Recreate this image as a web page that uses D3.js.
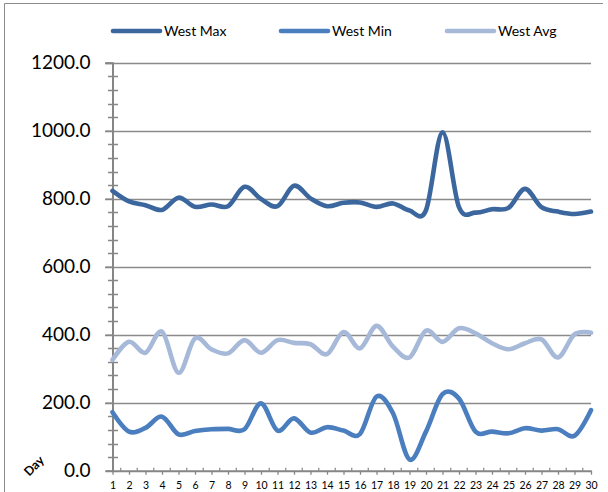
<!DOCTYPE html>
<html>
<head>
<meta charset="utf-8">
<script src="https://cdn.jsdelivr.net/npm/d3@7"></script>
<style>
  html, body { margin: 0; padding: 0; background: #fff; }
  svg { display: block; }
</style>
</head>
<body>
<svg id="chart" width="608" height="492"></svg>
<script>
const days = d3.range(1, 31);
const westMax = [823, 792, 781, 767, 803, 776, 783, 778, 835, 799, 778, 838, 801, 778, 788, 789, 776, 786, 765, 766, 995, 775, 759, 769, 773, 829, 775, 762, 755, 762];
const westMin = [172, 115, 126, 159, 107, 117, 122, 123, 122, 198, 118, 154, 112, 128, 118, 108, 218, 169, 33, 115, 225, 212, 115, 115, 110, 125, 118, 122, 103, 178];
const westAvg = [326, 379, 347, 409, 288, 389, 357, 345, 384, 347, 384, 376, 372, 343, 408, 360, 426, 365, 333, 412, 379, 419, 404, 375, 357, 375, 386, 333, 401, 406];
const seriesNames = ["West Max", "West Min", "West Avg"];
const seriesColors = ["#3b679e", "#4a7ebf", "#a7b9d9"];
const yTicks = [0, 200, 400, 600, 800, 1000, 1200];
const xTitle = "Day";

const font = "Lato, 'Open Sans', 'Liberation Sans', sans-serif";
const svg = d3.select("#chart");
const axisColor = "#868686";

// outer border (top and left visible)
svg.append("line").attr("x1", 4.5).attr("x2", 4.5).attr("y1", 3.5).attr("y2", 492).attr("stroke", "#8c8c8c").attr("stroke-width", 1);
svg.append("line").attr("x1", 4.5).attr("x2", 603).attr("y1", 3.5).attr("y2", 3.5).attr("stroke", "#8c8c8c").attr("stroke-width", 1);

const x = d3.scalePoint().domain(days).range([112.5, 591]);
const y = d3.scaleLinear().domain([0, 1200]).range([470.7, 62.7]);

// gridlines
svg.append("g").selectAll("line").data(yTicks.filter(d => d > 0)).join("line")
  .attr("x1", 105).attr("x2", 591)
  .attr("y1", d => Math.round(y(d)) + 0.5).attr("y2", d => Math.round(y(d)) + 0.5)
  .attr("stroke", "#8a8a8a").attr("stroke-width", 1.3);

// y axis
const yAxis = svg.append("g").attr("transform", "translate(112.5,0)")
  .call(d3.axisLeft(y).tickValues(yTicks).tickSize(7).tickFormat(d => d3.format(".1f")(d)));
yAxis.select(".domain").attr("stroke", axisColor).attr("stroke-width", 2);
yAxis.selectAll(".tick line").attr("stroke", axisColor).attr("stroke-width", 1.5);
yAxis.selectAll(".tick text").attr("font-family", font).attr("font-size", 19).attr("fill", "#000").attr("x", -22);
// minor y ticks
const minorY = d3.range(40, 1200, 40).filter(v => v % 200 !== 0);
svg.append("g").selectAll("line").data(minorY).join("line")
  .attr("x1", 108).attr("x2", 118)
  .attr("y1", d => Math.round(y(d)) + 0.5).attr("y2", d => Math.round(y(d)) + 0.5)
  .attr("stroke", axisColor).attr("stroke-width", 1.5);

// x axis
const xAxis = svg.append("g").attr("transform", `translate(0,${y(0)})`)
  .call(d3.axisBottom(x).tickSize(4).tickSizeOuter(0));
xAxis.select(".domain").attr("stroke", axisColor).attr("stroke-width", 2);
xAxis.selectAll(".tick line").attr("stroke", axisColor).attr("stroke-width", 1.3);
xAxis.selectAll(".tick text").attr("font-family", font).attr("font-size", 10.5).attr("fill", "#000").attr("y", 11);
// minor x ticks between days
const step = x.step();
svg.append("g").selectAll("line").data(days.slice(0, -1)).join("line")
  .attr("x1", d => x(d) + step / 2).attr("x2", d => x(d) + step / 2)
  .attr("y1", y(0) - 3).attr("y2", y(0))
  .attr("stroke", axisColor).attr("stroke-width", 1.2);

// x title rotated
svg.append("text").attr("transform", "translate(37,469) rotate(-45)")
  .attr("text-anchor", "middle").attr("font-family", font).attr("font-weight", "bold")
  .attr("font-size", 12.5).text(xTitle);

// lines
const line = d3.line().x((d, i) => x(days[i])).y(d => y(d)).curve(d3.curveCardinal.tension(0));
const allSeries = [westMax, westMin, westAvg];
// draw order: avg, min, max
[2, 1, 0].forEach(k => {
  svg.append("path").datum(allSeries[k]).attr("d", line)
    .attr("fill", "none").attr("stroke", seriesColors[k]).attr("stroke-width", 4.6)
    .attr("stroke-linecap", "round").attr("stroke-linejoin", "round");
});

// legend
const legendX = [113, 281, 447];
seriesNames.forEach((name, k) => {
  const g = svg.append("g").attr("transform", `translate(${legendX[k]},31)`);
  g.append("line").attr("x1", 0).attr("x2", 47).attr("y1", 0).attr("y2", 0)
    .attr("stroke", seriesColors[k]).attr("stroke-width", 4.6).attr("stroke-linecap", "round");
  g.append("text").attr("x", 51).attr("y", 5).attr("font-family", font).attr("font-size", 14)
    .attr("fill", "#000").text(name);
});
</script>
</body>
</html>
